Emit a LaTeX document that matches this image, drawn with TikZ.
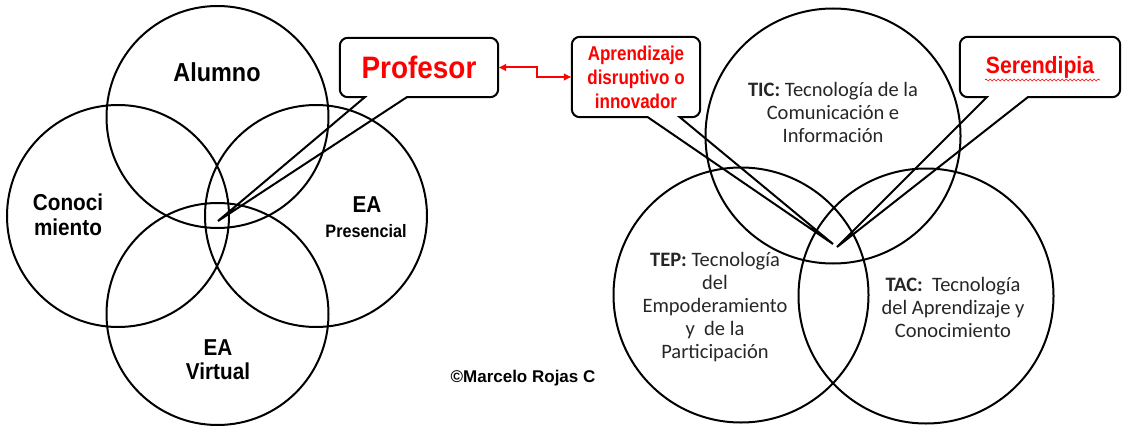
\documentclass[tikz,border=0pt]{standalone}
\usepackage{fontspec}
\setmainfont{Liberation Sans}
\newfontfamily\arialfont[FakeStretch=0.9]{Liberation Sans}
\newfontfamily\narrowfont[FakeStretch=0.85]{Liberation Sans}
\newfontfamily\calibrifont{Carlito}
\usetikzlibrary{positioning,arrows.meta,decorations.pathmorphing}

\begin{document}
\begin{tikzpicture}[x=1pt, y=-1pt,
			ring/.style={circle, draw=black, line width=2pt, minimum size=#1, inner sep=0pt},
			biglabel/.style={align=center, font=\arialfont\bfseries\fontsize{#1}{#1}\selectfont},
			techlabel/.style={align=center, text=black!85, font=\calibrifont\fontsize{20.5}{23}\selectfont},
			bubble/.style={inner sep=0pt, text=red, align=center},
			bubbleline/.style={draw=black, line width=2pt, line join=miter},
			redlink/.style={draw=red, line width=2pt, {Latex[length=8pt,width=8pt]}-{Latex[length=8pt,width=8pt]}},
			]
			\useasboundingbox (0,0) rectangle (1124,428);
			%Nodes
				% left circles
				\node[ring=222pt]		(alumno)		at (217.5,117)		{};
				\node[ring=222pt]		(conoc)		at (118,216)		{};
				\node[ring=222pt]		(presen)		at (316,216)		{};
				\node[ring=222pt]		(virtual)		at (217.5,314)		{};
				% right circles
				\node[ring=255pt]		(tic)		at (833,136)		{};
				\node[ring=255pt]		(tep)		at (741,295)		{};
				\node[ring=255pt]		(tac)		at (926,296)		{};
				% left labels
				\node[biglabel=26]		(alumnoText)		at (217,72)		{Alumno};
				\node[biglabel=23, text depth=0pt]		(conocText)		at (68,215)		{Conoci\\[2pt]miento};
				\node[biglabel=23]		(eaPres)		at (367,205)		{EA};
				\node[biglabel=18]		(presText)		at (366,231)		{Presencial};
				\node[biglabel=23, text depth=0pt]		(virtText)		at (218,360)		{EA\\[1pt]Virtual};
				% right labels
				\node[techlabel]		(ticText)		at (833,112)		{\textbf{TIC:} Tecnología de la\\Comunicación e\\Información};
				\node[techlabel]		(tepText)		at (715,307)		{\textbf{TEP:} Tecnología\\del\\Empoderamiento\\y\ \ de la\\Participación};
				\node[techlabel]		(tacText)		at (953,307)		{\textbf{TAC:}\ \ Tecnología\\del Aprendizaje y\\Conocimiento};
				% callouts
				\node[bubble, minimum width=158pt, minimum height=59pt, font=\arialfont\bfseries\fontsize{31}{31}\selectfont]		(prof)		at (419,67.5)		{Profesor};
				\node[bubble, minimum width=128pt, minimum height=80pt, font=\narrowfont\bfseries\fontsize{20}{24}\selectfont]		(aprend)		at (636,77)		{Aprendizaje\\disruptivo o\\innovador};
				\node[bubble, minimum width=160pt, minimum height=60pt, font=\arialfont\bfseries\fontsize{23.5}{24}\selectfont]		(serend)		at (1040,67)		{Serendipia};
				% callout tips
				\coordinate		(profTip)		at (218,221);
				\coordinate		(aprTip)		at (833,244);
				\coordinate		(serTip)		at (837,247);
				% signature
				\node[font=\bfseries\fontsize{17}{17}\selectfont]		(firma)		at (523,378)		{©Marcelo Rojas C};

			%Lines
				% callout outlines
				\draw[bubbleline] (profTip) -- ([xshift=67pt]prof.south west) [rounded corners=8pt] -- (prof.south east) -- (prof.north east) -- (prof.north west) -- (prof.south west) [sharp corners] -- ([xshift=25pt]prof.south west) -- cycle;
				\draw[bubbleline] (aprTip) -- ([xshift=108pt]aprend.south west) [rounded corners=8pt] -- (aprend.south east) -- (aprend.north east) -- (aprend.north west) -- (aprend.south west) [sharp corners] -- ([xshift=76pt]aprend.south west) -- cycle;
				\draw[bubbleline] (serTip) -- ([xshift=68pt]serend.south west) [rounded corners=8pt] -- (serend.south east) -- (serend.north east) -- (serend.north west) -- (serend.south west) [sharp corners] -- ([xshift=27pt]serend.south west) -- cycle;
				% spelling mark
				\draw[red, line width=0.6pt, decorate, decoration={snake, amplitude=1pt, segment length=4pt}] ([xshift=-55pt,yshift=-13pt]serend.center) -- ([xshift=60pt,yshift=-13pt]serend.center);
				% link
				\draw[redlink] (prof.east) -- ++(39,0) |- (aprend.west);
\end{tikzpicture}
\end{document}
